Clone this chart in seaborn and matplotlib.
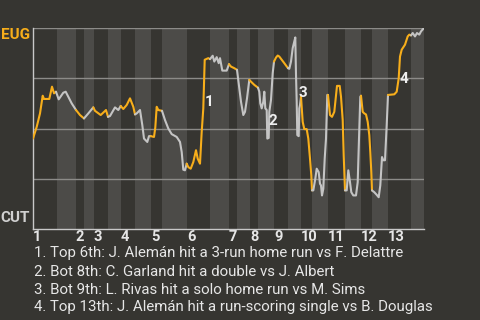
import matplotlib
matplotlib.use("Agg")
import matplotlib.pyplot as plt
import seaborn as sns
import pandas as pd

# ---- data ----
pitch_idx = [0, 3.7, 7, 9.7, 11, 16.3, 19, 21, 23,
             25.7, 30.3, 32.7, 35.3, 38.7, 43,
             47, 51,
             55.3, 60.3,
             62, 67.7, 73, 75,
             77, 82, 85.3, 87.7,
             90.3, 93.7, 97, 100.3, 102,
             103.7, 107, 109.3, 111, 114.3, 116, 117.7,
             121, 122.3, 123.7, 125.3, 129,
             132, 135.3, 138.7, 143.7, 147, 148.7, 150.3, 152, 153.7,
             155.3, 157.7, 160.3, 163, 164.7, 167, 168.7, 170.3, 171.7, 175.3, 177,
             179.7, 181.3, 183.7, 185.7, 187, 189.3, 193.7, 196,
             198, 201.3, 204,
             206.3, 208, 210.3, 212, 214, 216.3,
             218, 221.3, 225,
             226.3, 227.3, 228.7, 230.3, 231.3, 232.3, 233.7, 234.3, 235.7, 236.3, 238, 239.7, 241,
             243, 244.7, 246.3, 251.3, 255,
             256.3, 258, 259.7, 261.3, 262.3, 263, 263.7, 264.3, 265.7, 266.3, 267, 268,
             269.7, 271.3, 273.7, 275.3, 277, 278.3, 279,
             280.3, 282.3, 283.7, 285.7, 287, 288, 289, 290.3, 291.7, 293, 294.3, 295,
             297, 299, 301.3, 304, 306.7, 308, 309.7, 310.7, 312,
             313.7, 315.3, 317, 318.3, 320.3, 323, 324.7, 326, 327.3, 328,
             329.7, 331.3, 333, 334.7, 336.3, 337.3, 338.3, 339,
             341.3, 343.7, 345.7, 347.3, 349, 350.3, 352, 353.7, 355,
             361.3, 363.7, 365.7, 367, 368.7, 372, 374.7, 376.3, 378,
             379.7, 382, 384, 386.3, 388, 391]
eug_wp = [45, 50.8, 57.5, 66.3, 64.7, 64.7, 70.8, 67.5, 68.3,
          64.5, 67.8, 68.3, 65.8, 62.5, 59.2,
          56.7, 55,
          57.5, 60.5,
          58.8, 56.7, 59.2, 55.8,
          56.2, 60.5, 59.2, 61.2,
          59.7, 61.7, 65, 60.8, 57,
          57.5, 59.2, 51.7, 45, 43.3, 46.2, 46.2,
          45.8, 50.5, 60.8, 59.2, 58.8,
          54.2, 50, 47.2, 45.8, 43.3, 38.3, 29.5, 29.2, 32.5,
          30.8, 30, 33.3, 39.2, 35, 32.5, 48.3, 60, 84.2, 85, 84.5,
          86.2, 83.3, 85.5, 82.5, 85, 78.8, 78.8, 82,
          80.8, 80, 79.2,
          70, 63.3, 56.7, 58.3, 65, 74.2,
          73.3, 71.7, 70.3,
          68.3, 62.5, 60, 63.3, 68.3, 60, 59.2, 45, 45.3, 58.3, 64.2, 77.5, 83.3,
          85.3, 86.3, 85.8, 82.5, 80,
          79.7, 83.3, 90, 93.3, 95.3, 76.7, 63.3, 46.7, 46.2, 60, 61.7, 65.8,
          53.3, 49.7, 49.7, 45, 35, 26.7, 19.2,
          19.2, 25, 30, 28.3, 22.5, 21.7, 16.7, 20, 35, 45, 66.7, 66.7,
          56.7, 55.8, 58.3, 71.2, 71.2, 65.8, 54.2, 36.7, 19.2,
          19.2, 29.2, 23.3, 18.3, 16.7, 16.7, 23.3, 45, 65.8, 66.3,
          58.3, 57.5, 57, 53.3, 46.7, 38.3, 28.3, 19.2,
          18.3, 17, 15.8, 21.7, 35.8, 34.2, 34.2, 51.7, 66.7,
          67, 68.3, 75, 85.8, 89.2, 91.7, 95.8, 96.7, 96.3,
          97.5, 95.8, 97.5, 96.7, 98.3, 100]
half_bounds = [0, 24, 43, 51, 61, 75, 88, 102, 118, 129, 154, 177, 196, 204,
               217, 225, 241, 255, 268, 279, 295, 312, 328, 339, 355, 378, 391]
inning_labels = ["1", "2", "3", "4", "5", "6", "7", "8", "9", "10", "11", "12", "13"]
event_marks = ["1", "2", "3", "4"]
event_x = [176, 239.5, 269.5, 371]
event_y = [63.2, 53.7, 67.9, 74.4]
notes = ["1. Top 6th: J. Alemán hit a 3-run home run vs F. Delattre",
         "2. Bot 8th: C. Garland hit a double vs J. Albert",
         "3. Bot 9th: L. Rivas hit a solo home run vs M. Sims",
         "4. Top 13th: J. Alemán hit a run-scoring single vs B. Douglas"]
team_top, team_bottom = "EUG", "CUT"

# ---- styling ----
BG = "#363531"
STRIPE = "#4c4b48"
ORANGE = "#f7ae1b"
GRAYLINE = "#c4c4c4"
TXT = "#e6e6e6"

sns.set_theme(style="dark")
plt.rcParams["font.family"] = ["Roboto", "DejaVu Sans"]

# build segments (one per half inning)
rows = []
n_half = len(half_bounds) - 1
prev = None
for k in range(n_half):
    lo, hi = half_bounds[k], half_bounds[k + 1]
    pts = [(x, y) for x, y in zip(pitch_idx, eug_wp)
           if (lo < x <= hi) or (k == 0 and x == lo)]
    if prev is not None:
        pts = [prev] + pts
    for x, y in pts:
        rows.append({"x": x, "wp": y, "seg": k})
    if pts:
        prev = pts[-1]
df = pd.DataFrame(rows)
palette = {k: (ORANGE if k % 2 == 0 else GRAYLINE) for k in range(n_half)}

fig = plt.figure(figsize=(4.8, 3.2), dpi=100, facecolor=BG)
ax = fig.add_axes([33 / 480, 91 / 320, 391 / 480, 201 / 320])
ax.set_facecolor(BG)

for k in range(n_half):
    if k % 2 == 1:
        ax.axvspan(half_bounds[k], half_bounds[k + 1], color=STRIPE, lw=0, zorder=0)

for yv in [25, 50, 75, 100]:
    ax.axhline(yv, color="#8c8b88", lw=1.0, zorder=1)

sns.lineplot(data=df, x="x", y="wp", hue="seg", palette=palette, legend=False,
             sort=False, estimator=None, lw=1.5, ax=ax, zorder=3)

ax.set_xlim(0, half_bounds[-1])
ax.set_ylim(0, 100)
ax.grid(False)
for s in ["top", "right"]:
    ax.spines[s].set_visible(False)
for s in ["left", "bottom"]:
    ax.spines[s].set_visible(True)
    ax.spines[s].set_color("#c8c8c8")
    ax.spines[s].set_linewidth(1.0)

ax.set_xticks(half_bounds[0:-1:2][:len(inning_labels)])
ax.set_xticklabels(inning_labels, ha="left", fontsize=10.5, fontweight="bold", color=TXT)
ax.tick_params(axis="x", length=0, pad=1)
ax.set_yticks([])
ax.set_xlabel("")
ax.set_ylabel("")

ax.text(-0.008, 1.0, team_top, transform=ax.transAxes, ha="right", va="top",
        fontsize=11, fontweight="bold", color=ORANGE)
ax.text(-0.008, 0.018, team_bottom, transform=ax.transAxes, ha="right", va="bottom",
        fontsize=11, fontweight="bold", color="#d0d0d0")

for m, x, y in zip(event_marks, event_x, event_y):
    ax.text(x, y, m, ha="center", va="center", fontsize=11, fontweight="bold",
            color="#eeeeee", zorder=5)

for i, t in enumerate(notes):
    fig.text(34 / 480, 1 - (257.5 + 18 * i) / 320, t, ha="left", va="baseline",
             fontsize=10.8, color=TXT)

fig.savefig("out.png", dpi=100, facecolor=BG)
